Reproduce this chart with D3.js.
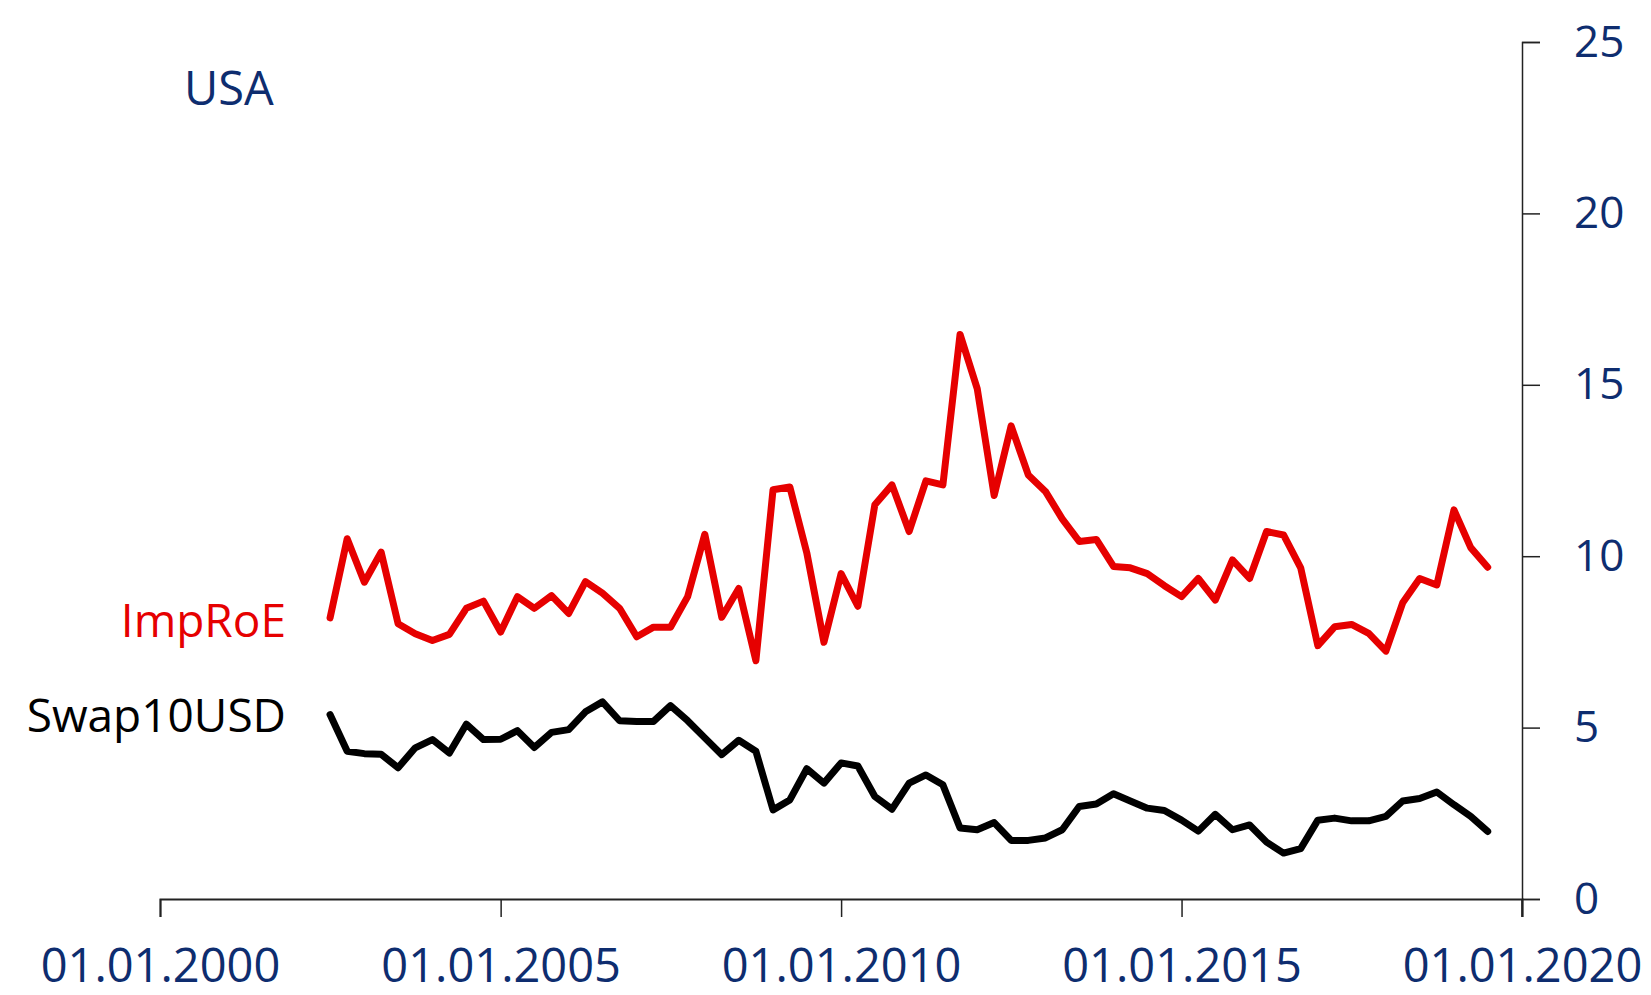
<!DOCTYPE html>
<html>
<head>
<meta charset="utf-8">
<script src="https://cdn.jsdelivr.net/npm/d3@7"></script>
<style>
  html, body { margin: 0; padding: 0; background: #fff; }
  svg text { font-family: "Open Sans", "Noto Sans", sans-serif; }
</style>
</head>
<body>
<div id="chart"></div>
<script>
// quarterly observations, first one at mid-2002
const startDate = new Date(2002, 6, 1);

const impRoE = [
  8.20, 10.51, 9.24, 10.12, 8.03, 7.74, 7.54, 7.72, 8.48, 8.69,
  7.79, 8.82, 8.48, 8.85, 8.33, 9.26, 8.92, 8.48, 7.65, 7.93,
  7.93, 8.82, 10.64, 8.22, 9.06, 6.95, 11.94, 12.02, 10.10, 7.49,
  9.49, 8.54, 11.50, 12.08, 10.72, 12.20, 12.08, 16.47, 14.89, 11.77,
  13.80, 12.37, 11.89, 11.09, 10.43, 10.49, 9.70, 9.66, 9.49, 9.14,
  8.82, 9.35, 8.72, 9.89, 9.35, 10.72, 10.62, 9.66, 7.39, 7.94,
  8.01, 7.75, 7.23, 8.64, 9.35, 9.16, 11.35, 10.25, 9.68
];

const swap10USD = [
  5.38, 4.31, 4.24, 4.22, 3.83, 4.41, 4.65, 4.26, 5.10, 4.65,
  4.66, 4.91, 4.42, 4.86, 4.94, 5.46, 5.75, 5.20, 5.18, 5.18,
  5.64, 5.20, 4.70, 4.21, 4.63, 4.31, 2.60, 2.89, 3.80, 3.38,
  3.97, 3.88, 2.99, 2.62, 3.38, 3.62, 3.33, 2.07, 2.02, 2.23,
  1.71, 1.71, 1.78, 2.02, 2.70, 2.77, 3.07, 2.86, 2.65, 2.58,
  2.30, 1.98, 2.47, 2.02, 2.16, 1.66, 1.34, 1.47, 2.30, 2.36,
  2.28, 2.28, 2.41, 2.86, 2.93, 3.12, 2.75, 2.41, 1.97
];

const xTickYears = [2000, 2005, 2010, 2015, 2020];
const yTicks = [0, 5, 10, 15, 20, 25];

const width = 1651;
const height = 995;
const navy = '#0e2d6f';

const svg = d3.select('#chart')
  .append('svg')
  .attr('width', width)
  .attr('height', height);

const xScale = d3.scaleTime()
  .domain([new Date(2000, 0, 1), new Date(2020, 0, 1)])
  .range([160, 1522]);

const yScale = d3.scaleLinear()
  .domain([0, 25])
  .range([899, 42]);

const dateAt = i => d3.timeMonth.offset(startDate, i * 3);

const xAxis = d3.axisBottom(xScale)
  .tickValues(xTickYears.map(y => new Date(y, 0, 1)))
  .tickFormat(d3.timeFormat('%d.%m.%Y'))
  .tickSize(18)
  .tickPadding(32);

const gx = svg.append('g')
  .attr('transform', `translate(0, ${yScale(0)})`)
  .call(xAxis);

const yAxis = d3.axisRight(yScale)
  .tickValues(yTicks)
  .tickSize(18)
  .tickPadding(34);

const gy = svg.append('g')
  .attr('transform', `translate(${xScale(new Date(2020, 0, 1))}, 0)`)
  .call(yAxis);

// axis line on the right also runs down past the baseline
gy.append('line')
  .attr('x1', 0).attr('x2', 0)
  .attr('y1', 0).attr('y2', 18)
  .attr('transform', `translate(0, ${yScale(0)})`);

[gx, gy].forEach(g => {
  g.selectAll('path, line').attr('stroke', '#222').attr('stroke-width', 1.5);
  g.selectAll('text')
    .attr('fill', navy)
    .style('font-size', (g === gx ? 47 : 44) + 'px');
});
gx.select('.domain').attr('stroke-width', 2);

const line = d3.line()
  .x((d, i) => xScale(dateAt(i)))
  .y(d => yScale(d));

svg.append('path')
  .datum(swap10USD)
  .attr('fill', 'none')
  .attr('stroke', '#000')
  .attr('stroke-width', 7)
  .attr('stroke-linejoin', 'round')
  .attr('stroke-linecap', 'round')
  .attr('d', line);

svg.append('path')
  .datum(impRoE)
  .attr('fill', 'none')
  .attr('stroke', '#e60000')
  .attr('stroke-width', 7)
  .attr('stroke-linejoin', 'round')
  .attr('stroke-linecap', 'round')
  .attr('d', line);

svg.append('text')
  .attr('x', 184)
  .attr('y', 105)
  .attr('fill', navy)
  .style('font-size', '47px')
  .text('USA');

svg.append('text')
  .attr('x', 286)
  .attr('y', 637)
  .attr('text-anchor', 'end')
  .attr('fill', '#e60000')
  .style('font-size', '46px')
  .text('ImpRoE');

svg.append('text')
  .attr('x', 286)
  .attr('y', 732)
  .attr('text-anchor', 'end')
  .attr('fill', '#000')
  .style('font-size', '46px')
  .text('Swap10USD');
</script>
</body>
</html>
